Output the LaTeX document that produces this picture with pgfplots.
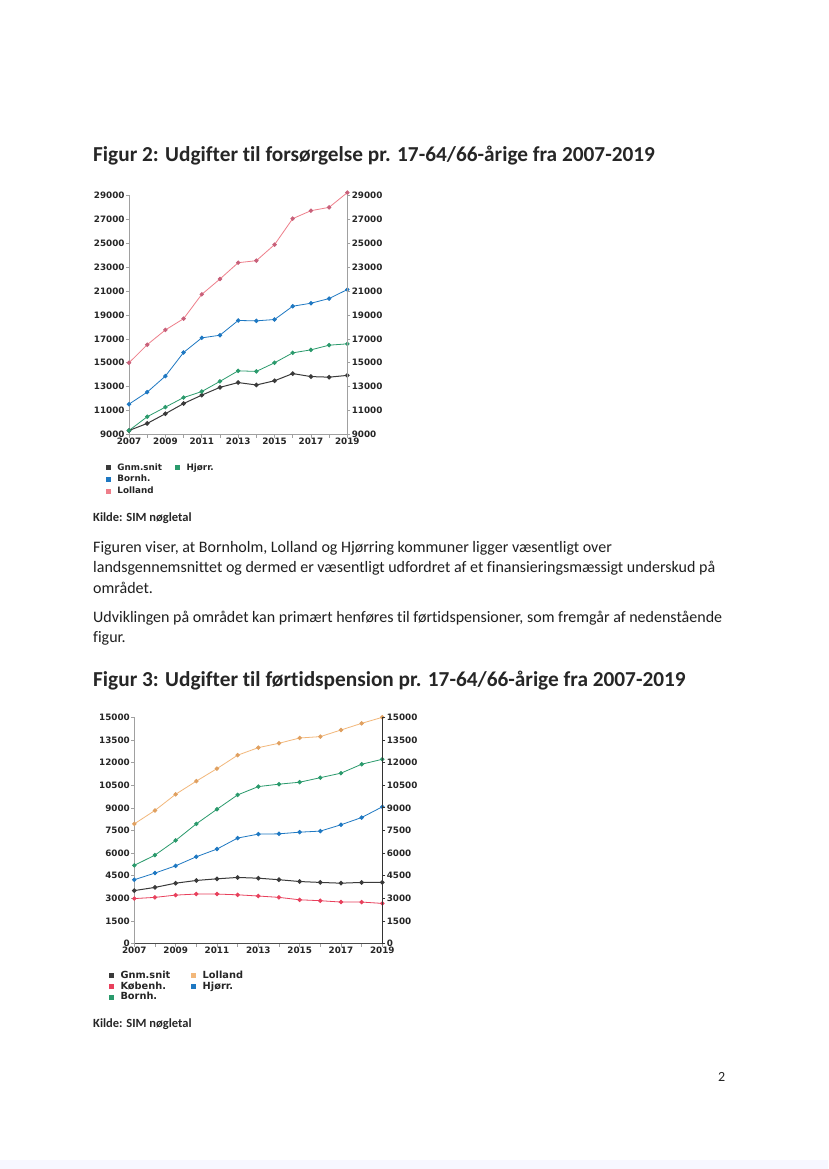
\documentclass[border=0pt]{standalone}
\usepackage{fontspec}
\setmainfont{Carlito}[Ligatures=NoCommon]
\newfontfamily\dv{DejaVu Sans}
\usepackage{pgfplots}
\pgfplotsset{compat=1.18}
\definecolor{cgnm}{HTML}{3A3A3A}
\definecolor{cbl}{HTML}{1E78C2}
\definecolor{cgr}{HTML}{2A9A6C}
\definecolor{cpk}{HTML}{EE7E8A}
\definecolor{cpkm}{HTML}{C8607A}
\definecolor{cor}{HTML}{F2B77A}
\definecolor{corm}{HTML}{E0A060}
\definecolor{crd}{HTML}{E8405C}
\definecolor{axg}{HTML}{A0A0A0}
\pgfplotsset{
  base/.style={scale only axis, clip=false, scaled ticks=false,
    xmin=2007, xmax=2019,
    xtick={2007,2009,...,2019}, minor xtick={2008,2010,...,2018},
    tick align=outside, major tick length=3pt, minor tick length=3pt,
    tick style={axg, line width=0.6pt},
    axis line style={axg, line width=0.6pt},
    xticklabel style={yshift=1pt},
    ticklabel style={font=\dv\bfseries\fontsize{8.8}{9}\selectfont, text=black!85, inner sep=1.3pt},
    /pgf/number format/1000 sep={}, /pgf/number format/assume math mode=true,
  },
  ser/.style={color=#1, mark=*, mark size=1.8pt, line width=0.8pt},
  leg/.style={legend style={draw=none, fill=none, inner sep=0pt,
      font=\dv\bfseries\fontsize{#1}{9}\selectfont, text=black!85,
      legend cell align=left, row sep=2.4pt, column sep=6pt,
      nodes={inner sep=0.6pt, text height=0.72*#1 pt, text depth=0.2*#1 pt}},
    legend columns=2,
    legend image code/.code={\fill[##1, draw=none] (0pt,-2.6pt) rectangle (5.2pt,2.6pt);}},
}
\begin{document}
\begin{tikzpicture}
\useasboundingbox (0pt,0pt) rectangle (828pt,-1169pt);
\fill[white] (0pt,0pt) rectangle (828pt,-1169pt);
\fill[blue!3] (0pt,-1160pt) rectangle (828pt,-1169pt);

% ---------- Figur 2 ----------
\node[anchor=base west, inner sep=0pt, font=\bfseries\fontsize{21.3}{26}\selectfont, text=black!85] at (93pt,-161.7pt) {Figur 2: Udgifter til forsørgelse pr. 17-64/66-årige fra 2007-2019};

\begin{axis}[base, leg=8.8, at={(129pt,-434.7pt)}, anchor=south west,
  width=218.3pt, height=239.7pt, ymin=9000, ymax=29000,
  ytick={9000,11000,...,29000},
  axis x line*=bottom, axis y line*=left,
  legend style={at={(-0.108,-0.118)}, anchor=north west,
    /tikz/every even column/.append style={column sep=12pt}}]
\addplot[ser=cgnm, line width=1pt] coordinates {(2007,9350)(2008,9940)(2009,10750)(2010,11600)(2011,12300)(2012,12950)(2013,13350)(2014,13150)(2015,13500)(2016,14100)(2017,13850)(2018,13800)(2019,13950)};
\addlegendentry{Gnm.snit}
\addplot[ser=cgr] coordinates {(2007,9350)(2008,10500)(2009,11300)(2010,12100)(2011,12600)(2012,13450)(2013,14330)(2014,14280)(2015,15000)(2016,15830)(2017,16080)(2018,16470)(2019,16580)};
\addlegendentry{Hjørr.}
\addplot[ser=cbl] coordinates {(2007,11550)(2008,12550)(2009,13890)(2010,15860)(2011,17080)(2012,17300)(2013,18530)(2014,18500)(2015,18610)(2016,19720)(2017,19970)(2018,20360)(2019,21110)};
\addlegendentry{Bornh.}
\addlegendimage{empty legend}
\addlegendentry{}
\addplot[ser=cpk, mark options={fill=cpkm, draw=cpkm}] coordinates {(2007,15000)(2008,16510)(2009,17740)(2010,18680)(2011,20710)(2012,21990)(2013,23350)(2014,23520)(2015,24860)(2016,27030)(2017,27690)(2018,27970)(2019,29200)};
\addlegendentry{Lolland}
\end{axis}
\begin{axis}[base, at={(129pt,-434.7pt)}, anchor=south west,
  width=218.3pt, height=239.7pt, ymin=9000, ymax=29000,
  ytick={9000,11000,...,29000},
  axis x line=none, axis y line*=right]
\end{axis}

\node[anchor=base west, inner sep=0pt, font=\bfseries\fontsize{12.5}{14}\selectfont, text=black!85] at (93pt,-521.7pt) {Kilde: SIM nøgletal};

\begin{scope}[every node/.style={anchor=base west, inner sep=0pt, font=\fontsize{16}{20}\selectfont, text=black!88}]
\node at (93pt,-552.3pt) {Figuren viser, at Bornholm, Lolland og Hjørring kommuner ligger væsentligt over};
\node at (93pt,-572.9pt) {landsgennemsnittet og dermed er væsentligt udfordret af et finansieringsmæssigt underskud på};
\node at (93pt,-593.3pt) {området.};
\node at (93pt,-622.3pt) {Udviklingen på området kan primært henføres til førtidspensioner, som fremgår af nedenstående};
\node at (93pt,-642.5pt) {figur.};
\end{scope}

% ---------- Figur 3 ----------
\node[anchor=base west, inner sep=0pt, font=\bfseries\fontsize{21.3}{26}\selectfont, text=black!85] at (93pt,-686.7pt) {Figur 3: Udgifter til førtidspension pr. 17-64/66-årige fra 2007-2019};

\begin{axis}[base, leg=9.8, at={(134.3pt,-943.7pt)}, anchor=south west,
  width=248pt, height=226.4pt, ymin=0, ymax=15000,
  ytick={0,1500,...,15000},
  axis x line*=bottom, axis y line*=left,
  x axis line style={black!70, line width=0.8pt},
  y axis line style={axg, line width=1.2pt},
  legend style={at={(-0.104,-0.118)}, anchor=north west, row sep=0.6pt,
    /tikz/every even column/.append style={column sep=20pt}}]
\addplot[ser=cgnm, line width=1pt] coordinates {(2007,3520)(2008,3730)(2009,4010)(2010,4190)(2011,4300)(2012,4390)(2013,4340)(2014,4240)(2015,4120)(2016,4060)(2017,4010)(2018,4060)(2019,4060)};
\addlegendentry{Gnm.snit}
\addplot[ser=cor, mark options={fill=corm, draw=corm}] coordinates {(2007,7940)(2008,8830)(2009,9900)(2010,10770)(2011,11600)(2012,12490)(2013,12990)(2014,13280)(2015,13630)(2016,13720)(2017,14160)(2018,14600)(2019,15000)};
\addlegendentry{Lolland}
\addplot[ser=crd] coordinates {(2007,2990)(2008,3070)(2009,3220)(2010,3290)(2011,3290)(2012,3240)(2013,3160)(2014,3070)(2015,2910)(2016,2850)(2017,2760)(2018,2760)(2019,2670)};
\addlegendentry{Københ.}
\addplot[ser=cbl] coordinates {(2007,4240)(2008,4680)(2009,5160)(2010,5760)(2011,6270)(2012,7000)(2013,7260)(2014,7280)(2015,7390)(2016,7460)(2017,7880)(2018,8360)(2019,9070)};
\addlegendentry{Hjørr.}
\addplot[ser=cgr] coordinates {(2007,5190)(2008,5870)(2009,6840)(2010,7940)(2011,8910)(2012,9860)(2013,10410)(2014,10570)(2015,10700)(2016,11000)(2017,11300)(2018,11890)(2019,12220)};
\addlegendentry{Bornh.}
\end{axis}
\begin{axis}[base, at={(134.3pt,-943.7pt)}, anchor=south west,
  width=248pt, height=226.4pt, ymin=0, ymax=15000,
  ytick={0,1500,...,15000},
  axis x line=none, axis y line*=right,
  axis line style={black!80, line width=1.3pt}, tick style={black!80, line width=0.8pt}]
\end{axis}

\node[anchor=base west, inner sep=0pt, font=\bfseries\fontsize{12.5}{14}\selectfont, text=black!85] at (93pt,-1027pt) {Kilde: SIM nøgletal};
\node[anchor=base west, inner sep=0pt, font=\fontsize{14}{16}\selectfont, text=black!85] at (718pt,-1081pt) {2};
\end{tikzpicture}
\end{document}
